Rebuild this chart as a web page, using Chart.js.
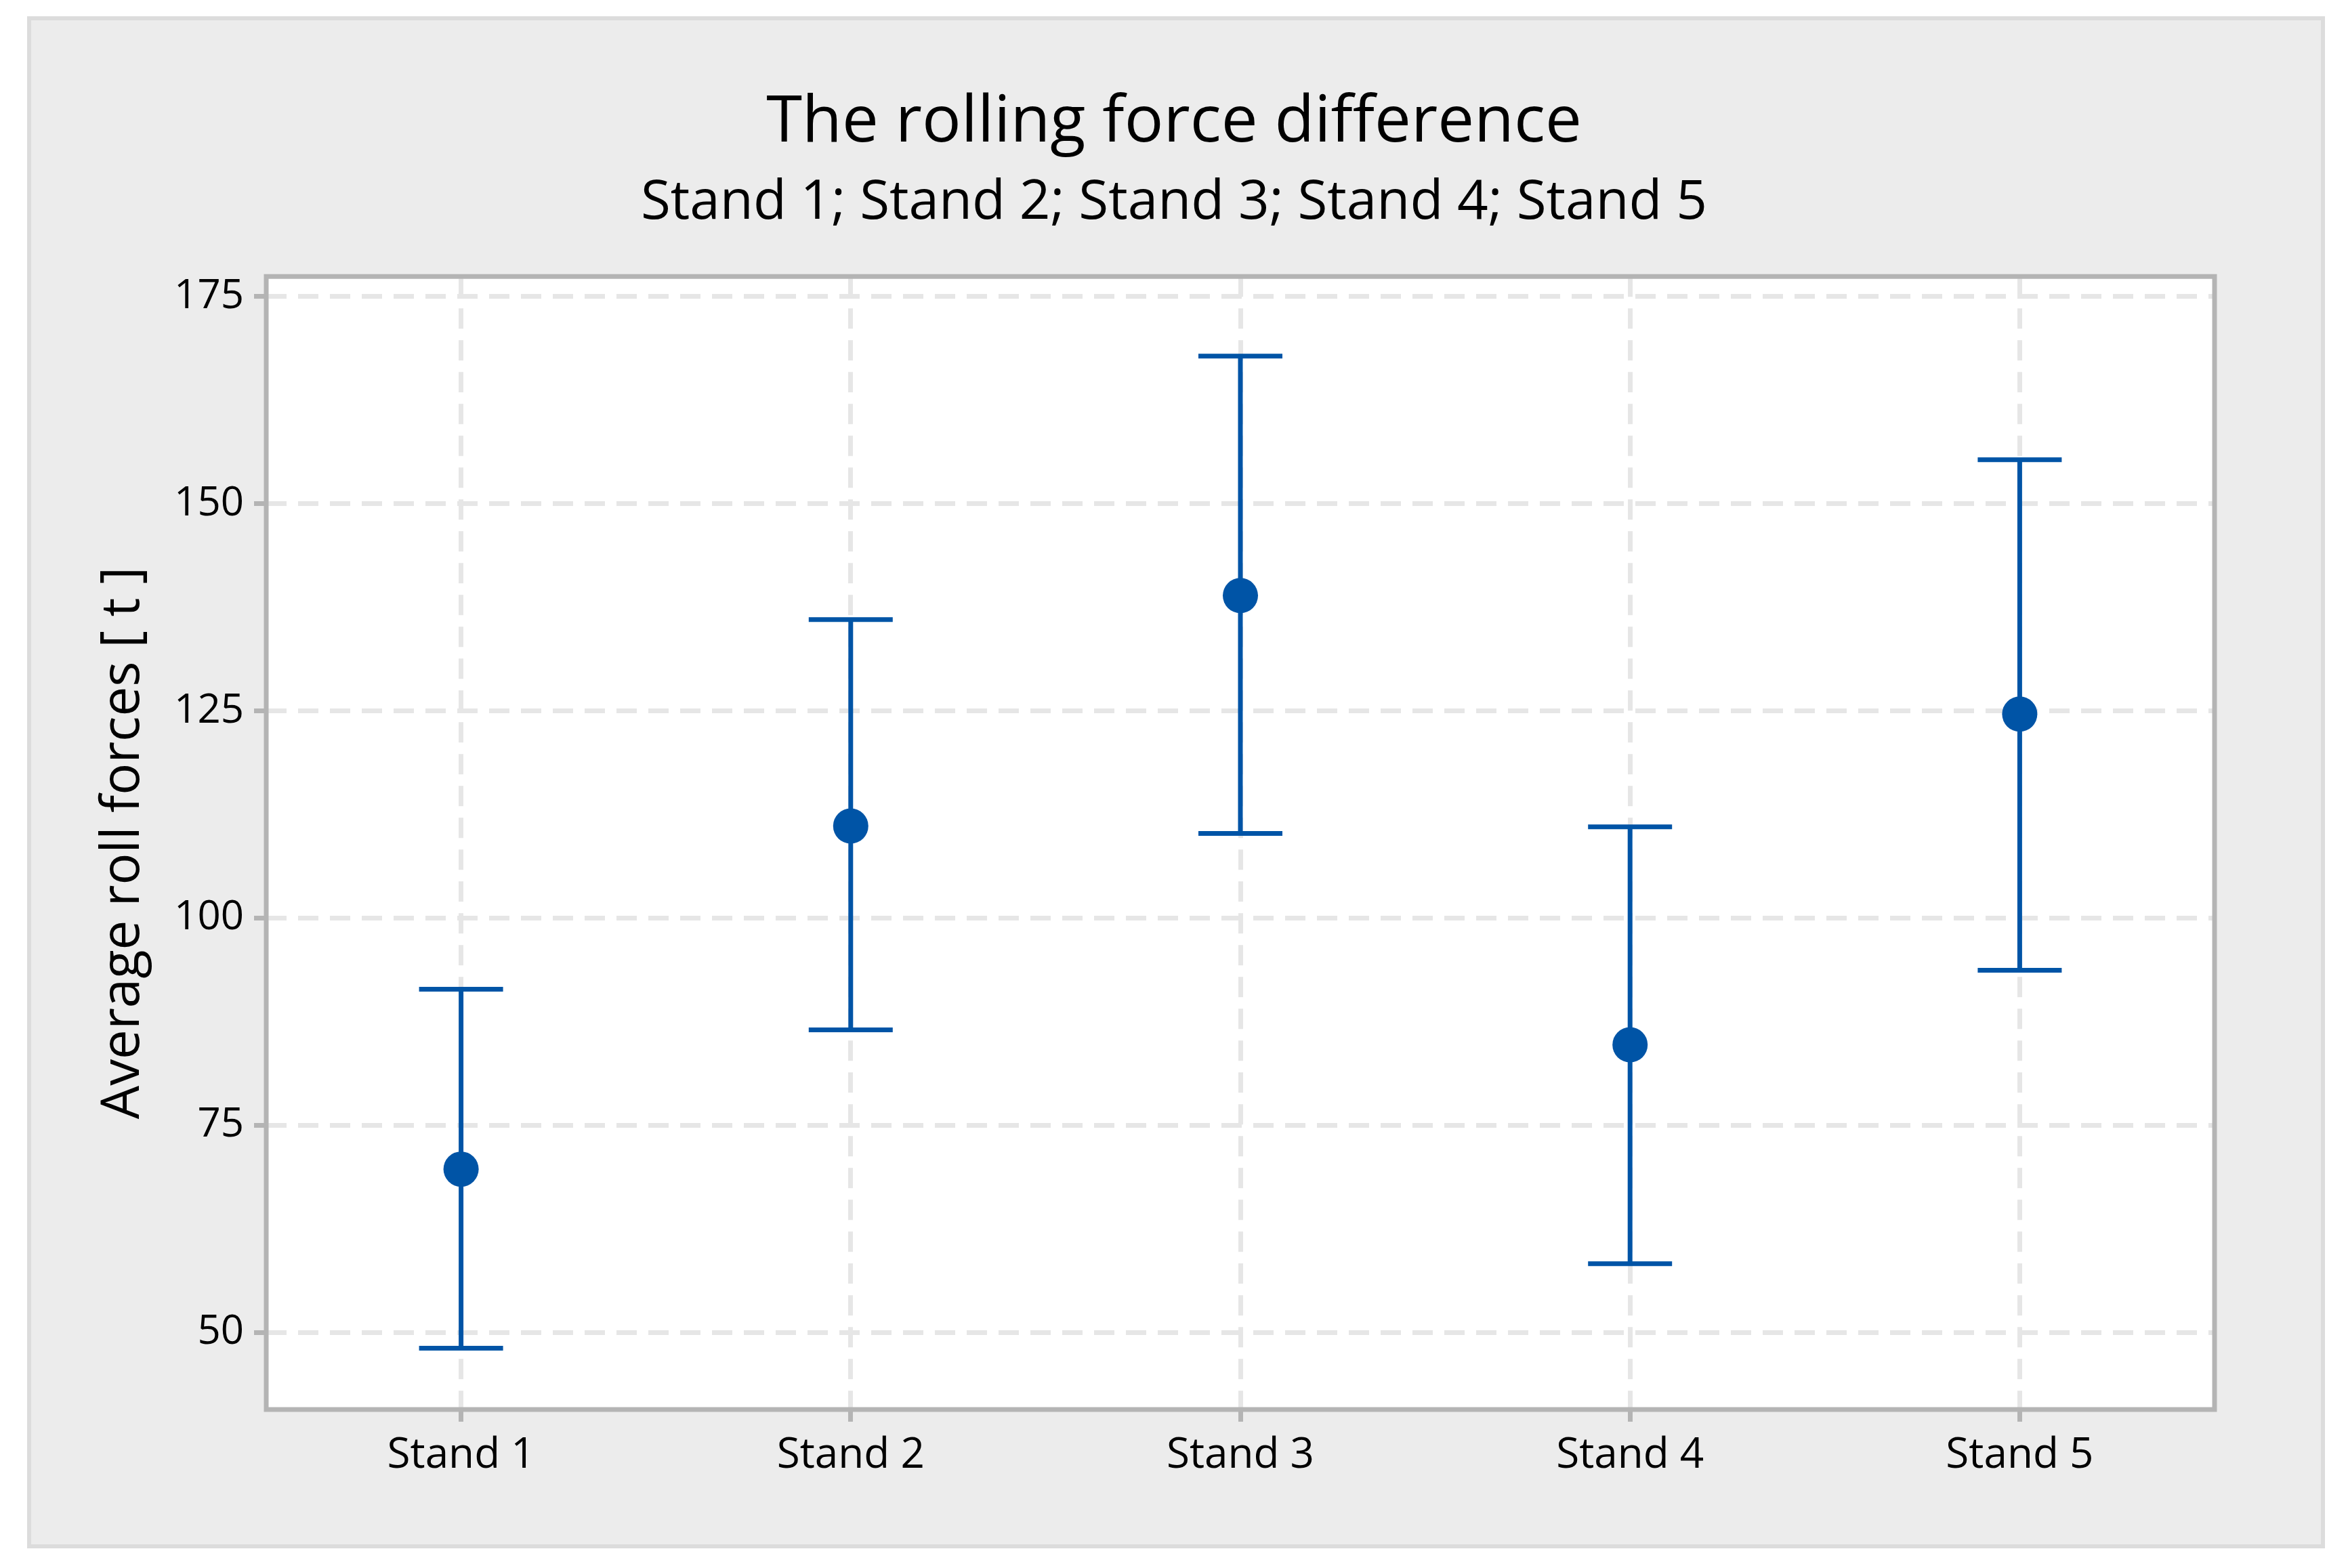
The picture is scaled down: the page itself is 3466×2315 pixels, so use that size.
<!DOCTYPE html>
<html>
<head>
<meta charset="utf-8">
<script src="https://cdn.jsdelivr.net/npm/chart.js@4.4.1/dist/chart.umd.min.js"></script>
<style>
  html, body { margin: 0; padding: 0; background: #ffffff; }
  #panel {
    position: absolute; left: 40px; top: 24px;
    width: 3392px; height: 2262px; box-sizing: border-box;
    background: #ececec; border: 6px solid #dcdcdc;
  }
  #wrap { position: absolute; left: 0; top: 0; width: 3466px; height: 2315px; }
</style>
</head>
<body>
<div id="panel"></div>
<div id="wrap"><canvas id="chart"></canvas></div>
<script>
// data
const stands = ['Stand 1', 'Stand 2', 'Stand 3', 'Stand 4', 'Stand 5'];
const means = [69.7, 111.1, 138.9, 84.7, 124.6];
const lowers = [48.1, 86.5, 110.2, 58.3, 93.7];
const uppers = [91.4, 136.0, 167.8, 111.0, 155.3];
const yTicks = [50, 75, 100, 125, 150, 175];

const BLUE = '#0054A6';
const FONT = "'Open Sans', 'Noto Sans', sans-serif";

// error bars: low -> high per stand, broken by a null point
const barPoints = [];
stands.forEach((s, i) => {
    barPoints.push({ x: s, y: lowers[i] });
    barPoints.push({ x: s, y: uppers[i] });
    barPoints.push({ x: s, y: null });
});

// white plot area and grey frame around it
const frame = {
    id: 'frame',
    beforeDraw(chart) {
        const { ctx, chartArea: a } = chart;
        ctx.save();
        ctx.fillStyle = '#ffffff';
        ctx.fillRect(a.left, a.top, a.right - a.left, a.bottom - a.top);
        ctx.restore();
    },
    beforeDatasetsDraw(chart) {
        const { ctx, chartArea: a } = chart;
        ctx.save();
        ctx.strokeStyle = '#b4b4b4';
        ctx.lineWidth = 7;
        ctx.strokeRect(a.left, a.top, a.right - a.left, a.bottom - a.top);
        ctx.restore();
    }
};

const gridStyle = {
    color: '#e6e6e6',
    lineWidth: 7,
    offset: false,
    drawTicks: true,
    tickColor: '#b4b4b4',
    tickLength: 18,
    tickWidth: 7,
    tickBorderDash: []
};

new Chart(document.getElementById('chart'), {
    type: 'line',
    data: {
        datasets: [
            {
                type: 'scatter',
                data: stands.map((s, i) => ({ x: s, y: means[i] })),
                backgroundColor: BLUE,
                borderWidth: 0,
                pointRadius: 26,
                pointHoverRadius: 26
            },
            {
                type: 'line',
                data: barPoints,
                borderColor: BLUE,
                borderWidth: 7,
                spanGaps: false,
                pointStyle: 'line',
                pointRadius: 62,
                pointHoverRadius: 62,
                pointBorderWidth: 7,
                pointBorderColor: BLUE
            }
        ]
    },
    options: {
        responsive: true,
        maintainAspectRatio: false,
        animation: false,
        layout: { padding: 0 },
        plugins: {
            legend: { display: false },
            tooltip: { enabled: false },
            title: {
                display: true,
                text: 'The rolling force difference',
                color: '#000000',
                font: { family: FONT, size: 96, weight: 'normal', lineHeight: 1.2 },
                padding: { top: 124, bottom: 0 }
            },
            subtitle: {
                display: true,
                text: 'Stand 1; Stand 2; Stand 3; Stand 4; Stand 5',
                color: '#000000',
                font: { family: FONT, size: 80, weight: 'normal', lineHeight: 1.2 },
                padding: { top: 13, bottom: 60 }
            }
        },
        scales: {
            x: {
                type: 'category',
                labels: stands,
                offset: true,
                grid: gridStyle,
                border: { display: false, dash: [30, 17] },
                ticks: {
                    color: '#000000',
                    padding: 13,
                    font: { family: FONT, size: 62, lineHeight: 1.2 }
                },
                afterFit(scale) { scale.height = 234; }
            },
            y: {
                type: 'linear',
                min: 40.7,
                max: 177.4,
                grid: gridStyle,
                border: { display: false, dash: [30, 17] },
                afterBuildTicks(scale) {
                    scale.ticks = yTicks.map(v => ({ value: v }));
                },
                ticks: {
                    color: '#000000',
                    padding: 15,
                    font: { family: FONT, size: 60, lineHeight: 1.2 }
                },
                title: {
                    display: true,
                    text: 'Average roll forces [ t ]',
                    color: '#000000',
                    font: { family: FONT, size: 78, lineHeight: 1.2 },
                    padding: { top: 136, bottom: 0 }
                },
                afterFit(scale) { scale.width = 393; }
            },
            // empty axis on the right, only to keep the plot clear of the panel edge
            yRight: {
                type: 'linear',
                position: 'right',
                display: true,
                grid: { display: false },
                border: { display: false },
                ticks: { display: false },
                afterFit(scale) { scale.width = 197; }
            }
        }
    },
    plugins: [frame]
});
</script>
</body>
</html>
